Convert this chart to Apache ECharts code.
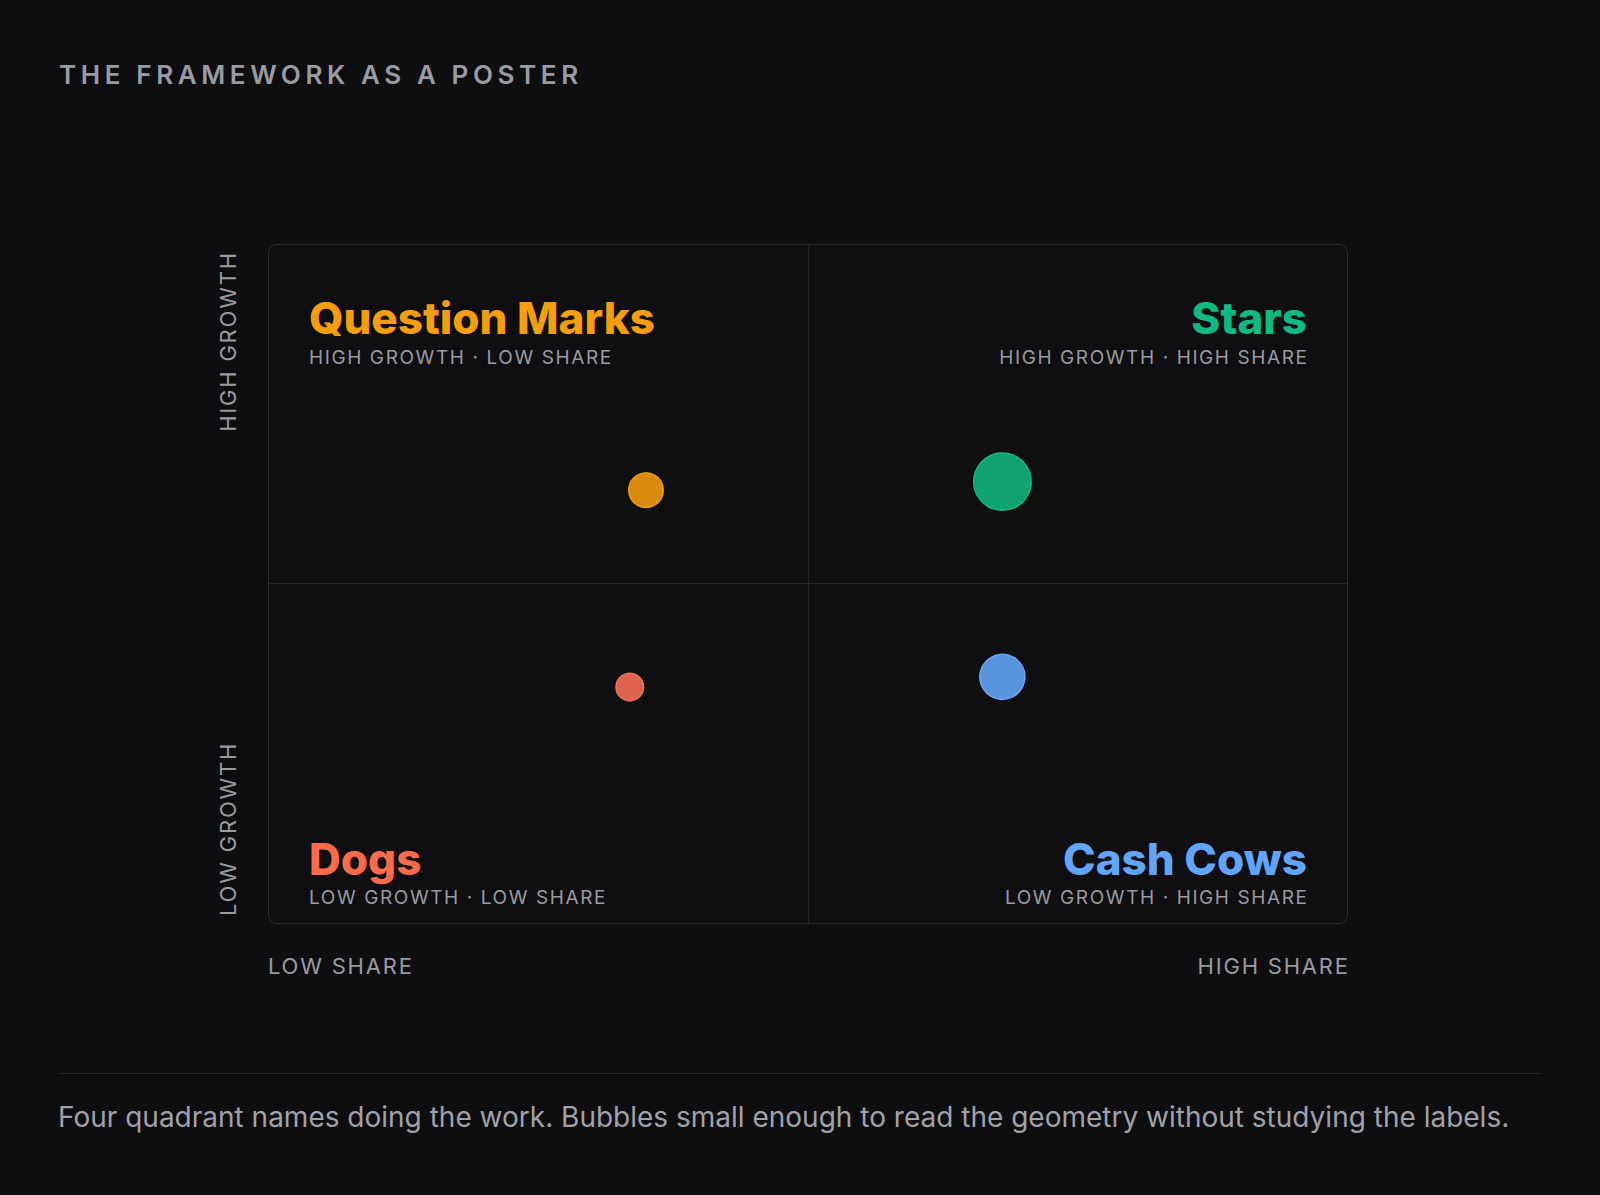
<!DOCTYPE html>
<html>
<head>
<meta charset="utf-8">
<title>The framework as a poster</title>
<script src="https://cdn.jsdelivr.net/npm/echarts@6/dist/echarts.min.js"></script>
<style>
  html, body { margin: 0; padding: 0; background: #0e0e10; }
  #chart { width: 1600px; height: 1195px; }
</style>
</head>
<body>
<div id="chart"></div>
<script>
// quadrant data (relative share 0..2, market growth 0..20 %)
var quadrants = ["Question Marks", "Stars", "Cash Cows", "Dogs"];
var share = [0.70, 1.36, 1.36, 0.67];
var growth = [12.75, 13.0, 7.25, 6.95];
var revenue = [36, 100, 62, 23];
var subtitles = ["HIGH GROWTH · LOW SHARE", "HIGH GROWTH · HIGH SHARE", "LOW GROWTH · HIGH SHARE", "LOW GROWTH · LOW SHARE"];
var shareLabels = ["LOW SHARE", "HIGH SHARE"];
var growthLabels = ["LOW GROWTH", "HIGH GROWTH"];

var labelColors = ["#f59e0b", "#10b981", "#60a5fa", "#fb6a4a"];
var fillColors = ["#d98b0c", "#11a272", "#5a94df", "#df624e"];
var edgeColors = ["#f09a14", "#14b883", "#6aa6f5", "#f2715a"];

var FONT = "Inter, 'Noto Sans', sans-serif";
var G = { left: 268, top: 244, width: 1080, height: 679 };
var PAD = 41;

// letter spacing (px) per text, applied to the svg output
var tracking = {};
tracking["THE FRAMEWORK AS A POSTER"] = 4.6;
subtitles.forEach(function (s) { tracking[s] = 1.6; });
shareLabels.concat(growthLabels).forEach(function (s) { tracking[s] = 1.8; });

var chart = echarts.init(document.getElementById("chart"), null, { renderer: "svg" });

function text(x, y, str, o) {
  return {
    type: "text", x: x, y: y, rotation: o.rotation || 0, z: 10, silent: true,
    style: {
      text: str, fill: o.color, font: (o.weight || 400) + " " + o.size + "px " + FONT,
      align: o.align || "left", verticalAlign: "middle"
    }
  };
}

var right = G.left + G.width - PAD;
var graphics = [
  {
    type: "rect", z: 0, silent: true,
    shape: { x: G.left + 0.5, y: G.top + 0.5, width: G.width - 1, height: G.height, r: 8 },
    style: { fill: "#0f0f11", stroke: "#2a2a2e", lineWidth: 1 }
  },
  text(59, 74.5, "THE FRAMEWORK AS A POSTER", { size: 26, weight: 600, color: "#9a9ca4" }),

  text(G.left + PAD, 318, quadrants[0], { size: 44, weight: 800, color: labelColors[0] }),
  text(G.left + PAD, 357, subtitles[0], { size: 19, color: "#9a9aa2" }),
  text(right, 318, quadrants[1], { size: 44, weight: 800, color: labelColors[1], align: "right" }),
  text(right, 357, subtitles[1], { size: 19, color: "#9a9aa2", align: "right" }),
  text(right, 859, quadrants[2], { size: 44, weight: 800, color: labelColors[2], align: "right" }),
  text(right, 897, subtitles[2], { size: 19, color: "#9a9aa2", align: "right" }),
  text(G.left + PAD, 859, quadrants[3], { size: 44, weight: 800, color: labelColors[3] }),
  text(G.left + PAD, 897, subtitles[3], { size: 19, color: "#9a9aa2" }),

  text(G.left, 966, shareLabels[0], { size: 22, color: "#9a9aa2" }),
  text(G.left + G.width, 966, shareLabels[1], { size: 22, color: "#9a9aa2", align: "right" }),
  text(228, 916, growthLabels[0], { size: 22, color: "#9a9aa2", rotation: Math.PI / 2 }),
  text(228, 253, growthLabels[1], { size: 22, color: "#9a9aa2", rotation: Math.PI / 2, align: "right" }),

  {
    type: "line", silent: true,
    shape: { x1: 58, y1: 1073.5, x2: 1542, y2: 1073.5 },
    style: { stroke: "#232326", lineWidth: 1 }
  },
  text(58, 1117, "Four quadrant names doing the work. Bubbles small enough to read the geometry without studying the labels.",
    { size: 28, color: "#a1a1aa" })
];

var points = quadrants.map(function (q, i) {
  return {
    name: q,
    value: [share[i], growth[i], revenue[i]],
    itemStyle: { color: fillColors[i], borderColor: edgeColors[i], borderWidth: 1.5, opacity: 1 }
  };
});

var option = {
  backgroundColor: "#0e0e10",
  animation: false,
  grid: G,
  xAxis: { type: "value", min: 0, max: 2, show: false },
  yAxis: { type: "value", min: 0, max: 20, show: false },
  graphic: graphics,
  series: [
    {
      type: "scatter",
      z: 5,
      data: points,
      symbolSize: function (v) { return 5.74 * Math.sqrt(v[2]); },
      markLine: {
        silent: true,
        symbol: "none",
        label: { show: false },
        lineStyle: { color: "#242427", width: 1, type: "solid" },
        data: [{ xAxis: 1 }, { yAxis: 10 }]
      }
    }
  ]
};

chart.setOption(option);

function applyTracking() {
  var nodes = document.querySelectorAll("#chart text");
  for (var i = 0; i < nodes.length; i++) {
    var t = nodes[i];
    var s = tracking[t.textContent];
    if (s == null) continue;
    t.style.letterSpacing = s + "px";
    if (t.getAttribute("text-anchor") === "end") t.setAttribute("dx", s);
  }
}
applyTracking();
chart.on("finished", applyTracking);
setTimeout(applyTracking, 50);
</script>
</body>
</html>
